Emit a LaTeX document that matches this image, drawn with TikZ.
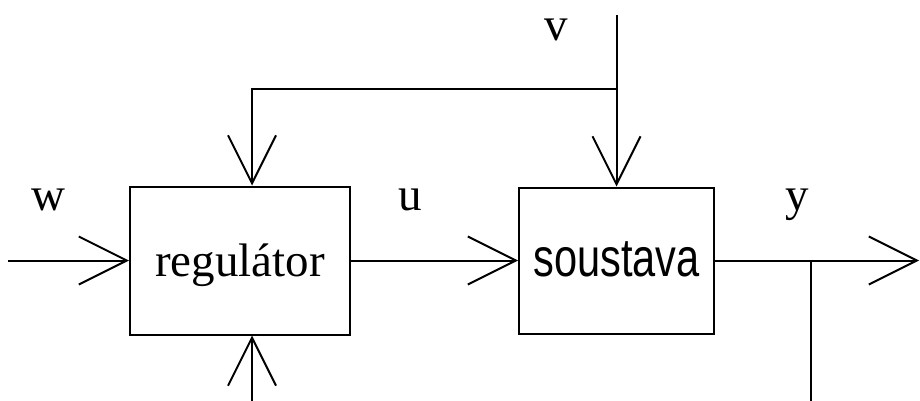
\documentclass[tikz,border=0pt]{standalone}
\usepackage{fontspec}
\setmainfont{Liberation Serif}
\newfontfamily\blocksans{Liberation Sans}
\usepackage{graphicx}
\usetikzlibrary{arrows.meta}

\begin{document}
\begin{tikzpicture}[
    x=1pt, y=-1pt,
    >={Straight Barb[length=48pt,width=48pt]},
    line width=2pt,
    block/.style={draw,line width=2pt,inner sep=0pt},
    sig/.style={font=\fontsize{47}{52}\selectfont,anchor=base},
]
\useasboundingbox (0,0) rectangle (920,401);

% Blocks
\node[block,minimum width=220pt,minimum height=148pt,
    font=\fontsize{47}{52}\selectfont,text height=36pt,text depth=4pt]
    (reg) at (240,260.5) {regulátor};
\node[block,minimum width=195pt,minimum height=146pt,
    font=\blocksans\fontsize{54}{60}\selectfont,text height=32pt,text depth=0pt]
    (sys) at (616.5,260.5) {\scalebox{0.77}[1]{soustava}};

% Free ends
\coordinate (win) at (8,260.5);
\coordinate (dist) at (252,401);
\coordinate (vin) at (616.5,15);
\coordinate (vsplit) at (616.5,89);
\coordinate (ysplit) at (811,260.5);
\coordinate (ydown) at (811,401);
\coordinate (yout) at (919,260.5);

% Signals
\draw[->] (win) -- (reg.west);
\draw[->] (dist) -- (dist |- reg.south);
\draw[->] (reg.east) -- (sys.west);
\draw[->] (vin) -- (sys.north);
\draw[->] (vsplit) -| (dist |- reg.north);
\draw[->] (sys.east) -- (yout);
\draw (ysplit) -- (ydown);

% Labels
\node[sig] (wlab) at (48,210) {w};
\node[sig] (ulab) at (410,210) {u};
\node[sig] (vlab) at (556,41) {v};
\node[sig] (ylab) at (797,210) {y};
\end{tikzpicture}
\end{document}
